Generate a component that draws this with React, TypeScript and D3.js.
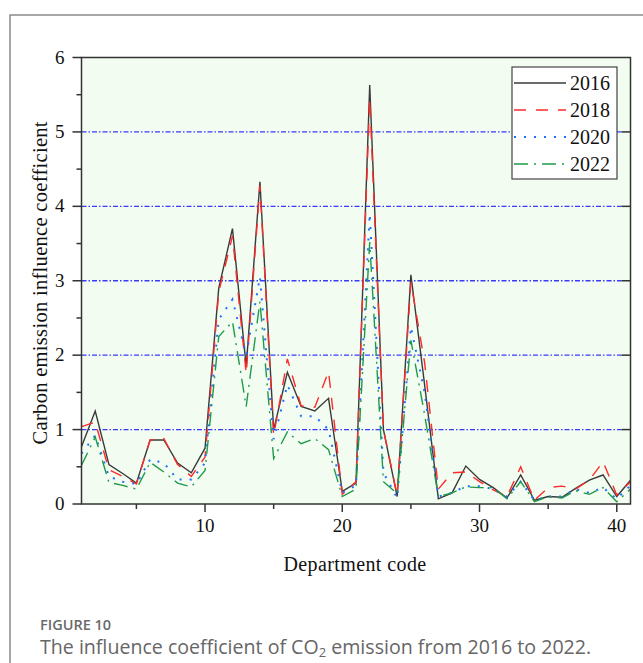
import React, { useRef, useEffect } from 'react';
import * as d3 from 'd3';

const DEPTS = d3.range(1, 42);
const YEARS = ['2016', '2018', '2020', '2022'];

const V2016 = [0.77, 1.25, 0.53, 0.41, 0.28, 0.86, 0.86, 0.55, 0.42, 0.75,
  2.9, 3.7, 1.85, 4.33, 1.0, 1.77, 1.31, 1.25, 1.42, 0.17,
  0.28, 5.63, 1.0, 0.1, 3.08, 1.6, 0.07, 0.15, 0.51, 0.33,
  0.22, 0.08, 0.39, 0.05, 0.1, 0.09, 0.21, 0.32, 0.39, 0.1, 0.32];
const V2018 = [1.04, 1.1, 0.46, 0.37, 0.27, 0.86, 0.88, 0.53, 0.37, 0.63,
  2.85, 3.6, 1.75, 4.28, 0.92, 1.95, 1.32, 1.3, 1.78, 0.13,
  0.3, 5.45, 1.0, 0.12, 2.98, 1.9, 0.2, 0.42, 0.43, 0.3,
  0.19, 0.1, 0.5, 0.05, 0.22, 0.24, 0.2, 0.32, 0.57, 0.12, 0.3];
const V2020 = [0.68, 0.92, 0.37, 0.3, 0.27, 0.6, 0.55, 0.33, 0.33, 0.55,
  2.48, 2.75, 2.0, 3.05, 0.87, 1.6, 1.18, 1.18, 1.0, 0.15,
  0.25, 3.9, 0.42, 0.08, 2.38, 1.5, 0.1, 0.15, 0.24, 0.24,
  0.2, 0.1, 0.3, 0.05, 0.1, 0.1, 0.2, 0.15, 0.22, 0.07, 0.25];
const V2022 = [0.52, 0.9, 0.29, 0.25, 0.2, 0.56, 0.43, 0.28, 0.23, 0.45,
  2.25, 2.45, 1.31, 2.72, 0.61, 0.97, 0.81, 0.88, 0.73, 0.1,
  0.2, 3.52, 0.3, 0.14, 2.2, 1.2, 0.1, 0.15, 0.23, 0.22,
  0.22, 0.07, 0.3, 0.03, 0.1, 0.08, 0.18, 0.13, 0.22, 0.03, 0.2];

const X_TICKS = [10, 20, 30, 40];
const X_MINOR = [5, 15, 25, 35];
const Y_TICKS = [0, 1, 2, 3, 4, 5, 6];
const Y_MINOR = [0.5, 1.5, 2.5, 3.5, 4.5, 5.5];
const GRID = [1, 2, 3, 4, 5];

const width = 643;
const height = 663;
const left = 81.5;
const right = 630.5;
const top = 57.5;
const bottom = 504;
const serif = '"Liberation Serif", "Times New Roman", serif';
const sans = '"Open Sans", "Noto Sans", sans-serif';

const STYLES = [
  { color: '#3a3a3a', dash: null, w: 1.4 },
  { color: '#ff2a2a', dash: '12,10', w: 1.4 },
  { color: '#1f6fff', dash: '2,8', w: 2 },
  { color: '#1f9a4a', dash: '14,6,2,6', w: 1.4 },
];

const x = d3.scaleLinear().domain([1, 41]).range([left, right]);
const y = d3.scaleLinear().domain([0, 6]).range([bottom, top]);

function drawChart(node) {
  const svg = d3.select(node);
  svg.selectAll('*').remove();
  const series = [V2016, V2018, V2020, V2022];

  // outer frame
  svg.append('path')
    .attr('d', `M10,${height + 5}V15H${width + 5}`)
    .attr('fill', 'none').attr('stroke', '#8a8a8a').attr('stroke-width', 1.5);

  svg.append('rect')
    .attr('x', left).attr('y', top)
    .attr('width', right - left).attr('height', bottom - top)
    .attr('fill', '#f2fcf0');

  svg.append('g').selectAll('line').data(GRID).join('line')
    .attr('x1', left).attr('x2', right - 9)
    .attr('y1', d => y(d)).attr('y2', d => y(d))
    .attr('stroke', '#3a3aff').attr('stroke-width', 1.3)
    .attr('stroke-dasharray', '5,2,1.5,2');

  const line = d3.line<number>().x((_, i) => x(DEPTS[i])).y(d => y(d));
  series.forEach((vals, i) => {
    const s = STYLES[i];
    svg.append('path')
      .attr('d', line(vals))
      .attr('fill', 'none')
      .attr('stroke', s.color)
      .attr('stroke-width', s.w)
      .attr('stroke-dasharray', s.dash);
  });

  // frame of plot
  svg.append('rect')
    .attr('x', left).attr('y', top)
    .attr('width', right - left).attr('height', bottom - top)
    .attr('fill', 'none').attr('stroke', '#333').attr('stroke-width', 1.5);

  const ax = svg.append('g').attr('stroke', '#333').attr('stroke-width', 1.5);
  ax.selectAll('line.xmaj').data(X_TICKS).join('line').attr('class', 'xmaj')
    .attr('x1', d => x(d)).attr('x2', d => x(d))
    .attr('y1', bottom).attr('y2', bottom + 8);
  ax.selectAll('line.xmin').data(X_MINOR).join('line').attr('class', 'xmin')
    .attr('x1', d => x(d)).attr('x2', d => x(d))
    .attr('y1', bottom).attr('y2', bottom + 5);
  ax.selectAll('line.ymaj').data(Y_TICKS).join('line').attr('class', 'ymaj')
    .attr('x1', left - 9).attr('x2', left)
    .attr('y1', d => y(d)).attr('y2', d => y(d));
  ax.selectAll('line.ymin').data(Y_MINOR).join('line').attr('class', 'ymin')
    .attr('x1', left - 5).attr('x2', left)
    .attr('y1', d => y(d)).attr('y2', d => y(d));
  ax.selectAll('line.yr').data(GRID).join('line').attr('class', 'yr')
    .attr('x1', right - 9).attr('x2', right)
    .attr('y1', d => y(d)).attr('y2', d => y(d));

  svg.append('g').selectAll('text').data(X_TICKS).join('text')
    .attr('x', d => x(d)).attr('y', bottom + 28)
    .attr('text-anchor', 'middle')
    .attr('font-family', serif).attr('font-size', 19).attr('fill', '#111')
    .text(d => d);
  svg.append('g').selectAll('text').data(Y_TICKS).join('text')
    .attr('x', left - 17).attr('y', d => y(d) + 6)
    .attr('text-anchor', 'end')
    .attr('font-family', serif).attr('font-size', 19).attr('fill', '#111')
    .text(d => d);

  svg.append('text')
    .attr('x', (left + right) / 2 - 1).attr('y', 571)
    .attr('text-anchor', 'middle')
    .attr('font-family', serif).attr('font-size', 20).attr('fill', '#111')
    .attr('letter-spacing', 0.4)
    .text('Department code');
  svg.append('text')
    .attr('transform', `translate(47,${(top + bottom) / 2 + 2}) rotate(-90)`)
    .attr('text-anchor', 'middle')
    .attr('font-family', serif).attr('font-size', 20.5).attr('fill', '#111')
    .attr('letter-spacing', 0.3)
    .text('Carbon emission influence coefficient');

  // legend
  const lg = svg.append('g');
  lg.append('rect')
    .attr('x', 512).attr('y', 67).attr('width', 105).attr('height', 112)
    .attr('fill', '#fff').attr('stroke', '#444').attr('stroke-width', 1.2);
  YEARS.forEach((yr, i) => {
    const s = STYLES[i];
    const ly = 83 + i * 27;
    lg.append('line')
      .attr('x1', 514).attr('x2', 566).attr('y1', ly).attr('y2', ly)
      .attr('stroke', s.color).attr('stroke-width', s.w)
      .attr('stroke-dasharray', s.dash);
    lg.append('text')
      .attr('x', 570).attr('y', ly + 7)
      .attr('font-family', serif).attr('font-size', 20).attr('fill', '#111')
      .text(yr);
  });

  // caption
  svg.append('text')
    .attr('x', 40).attr('y', 630)
    .attr('font-family', sans)
    .attr('font-size', 14.5).attr('font-weight', 600).attr('fill', '#6a6a6a')
    .text('FIGURE 10');
  const cap = svg.append('text')
    .attr('x', 40).attr('y', 654)
    .attr('font-family', sans)
    .attr('font-size', 19.6).attr('fill', '#666');
  cap.append('tspan').text('The influence coefficient of CO');
  cap.append('tspan').attr('font-size', 13).attr('dy', 3).text('2');
  cap.append('tspan').attr('dy', -3).text(' emission from 2016 to 2022.');
}

const App = () => {
  const ref = useRef(null);
  useEffect(() => {
    if (ref.current) drawChart(ref.current);
  }, [ref]);
  return (
    <svg ref={ref} width={width} height={height}
      style={{ position: 'absolute', left: 0, top: 0, background: '#fff' }} />
  );
};

export default App;
